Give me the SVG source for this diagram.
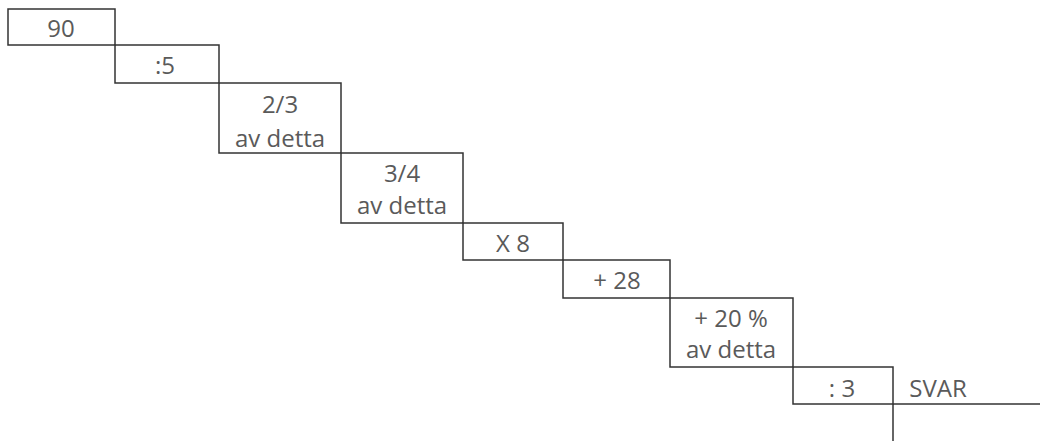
<svg xmlns="http://www.w3.org/2000/svg" width="1040" height="441" viewBox="0 0 1040 441">
<style>
.b{fill:none;stroke:#333;stroke-width:1.5}
.t{font-family:"Open Sans","Liberation Sans",sans-serif;font-size:24px;fill:#5a5a5a;text-anchor:middle}
.l{fill:none;stroke:#333;stroke-width:1.5}
</style>
<rect width="1040" height="441" fill="#fff"/>
<g id="n1"><rect class="b" x="8" y="9" width="107" height="36"/><text class="t" x="61" y="37">90</text></g>
<g id="n2"><rect class="b" x="115" y="45" width="104" height="38"/><text class="t" x="165" y="74">:5</text></g>
<g id="n3"><rect class="b" x="219" y="83" width="122" height="70"/><text class="t" x="280" y="113">2/3</text><text class="t" x="280" y="147">av detta</text></g>
<g id="n4"><rect class="b" x="341" y="153" width="122" height="70"/><text class="t" x="402" y="182">3/4</text><text class="t" x="402" y="214">av detta</text></g>
<g id="n5"><rect class="b" x="463" y="223" width="100" height="37"/><text class="t" x="513" y="252">X 8</text></g>
<g id="n6"><rect class="b" x="563" y="260" width="107" height="38"/><text class="t" x="617" y="289">+ 28</text></g>
<g id="n7"><rect class="b" x="670" y="298" width="123" height="69"/><text class="t" x="731" y="327">+ 20 %</text><text class="t" x="731" y="358">av detta</text></g>
<g id="n8"><rect class="b" x="793" y="367" width="100" height="37"/><text class="t" x="842" y="397">: 3</text></g>
<g id="svar"><text class="t" x="938" y="397">SVAR</text></g>
<g id="connectors"><line class="l" x1="893" y1="404" x2="1040" y2="404"/><line class="l" x1="893" y1="404" x2="893" y2="441"/></g>
</svg>
